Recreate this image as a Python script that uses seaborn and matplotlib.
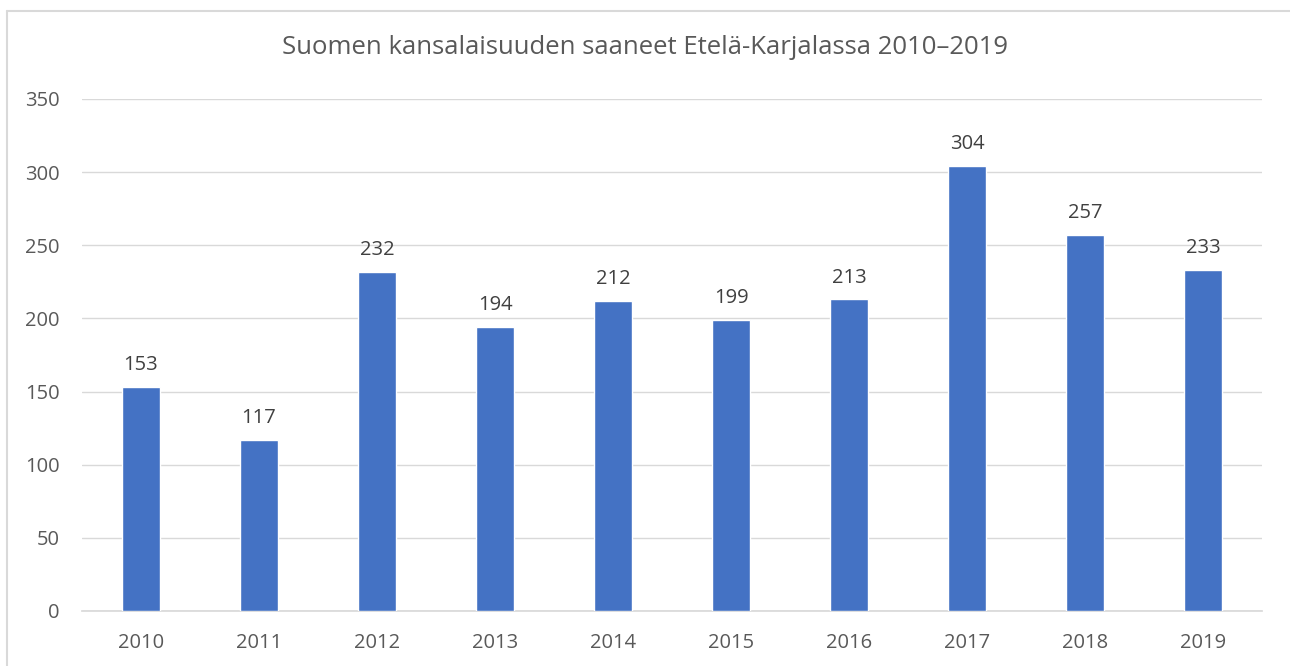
import matplotlib
matplotlib.use("Agg")
import matplotlib.pyplot as plt
import seaborn as sns
import pandas as pd
from matplotlib.lines import Line2D

years = ["2010", "2011", "2012", "2013", "2014", "2015", "2016", "2017", "2018", "2019"]
values = [153, 117, 232, 194, 212, 199, 213, 304, 257, 233]
title = "Suomen kansalaisuuden saaneet Etelä-Karjalassa 2010–2019"
yticks = [0, 50, 100, 150, 200, 250, 300, 350]

sns.set_theme(style="white")
plt.rcParams['font.family'] = ['Open Sans', 'DejaVu Sans']

df = pd.DataFrame({"year": years, "value": values})

fig = plt.figure(figsize=(12.9, 6.66), dpi=100)
ax = fig.add_axes([82/1290, 1-611/666, 1180/1290, 512/666])
sns.barplot(data=df, x="year", y="value", color="#4472C4", width=0.32,
            saturation=1, ax=ax, zorder=3)
ax.set_ylim(0, 350)
ax.set_xlim(-0.5, 9.5)
ax.set_yticks(yticks)
ax.yaxis.grid(True, color="#D9D9D9", linewidth=1, zorder=0)
ax.set_xlabel("")
ax.set_ylabel("")
for s in ["top", "right", "left"]:
    ax.spines[s].set_visible(False)
ax.spines["bottom"].set_color("#D9D9D9")
ax.tick_params(axis="both", length=0, labelsize=14.5, colors="#595959")
ax.tick_params(axis="y", pad=16)
ax.tick_params(axis="x", pad=15.5)
for i, v in enumerate(values):
    ax.annotate(str(v), (i, v), xytext=(0, 8.5), textcoords="offset points",
                ha="center", va="bottom", fontsize=14.5, color="#404040")
fig.text(0.5, 1-47/666, title, ha="center", va="center", fontsize=18.5, color="#595959")
fig.lines.append(Line2D([6.5/1290, 6.5/1290], [0, 1-10.5/666], transform=fig.transFigure,
                        color="#D9D9D9", linewidth=1.5))
fig.lines.append(Line2D([6.5/1290, 1], [1-10.5/666, 1-10.5/666], transform=fig.transFigure,
                        color="#D9D9D9", linewidth=1.5))
fig.savefig("out.png", dpi=100)
